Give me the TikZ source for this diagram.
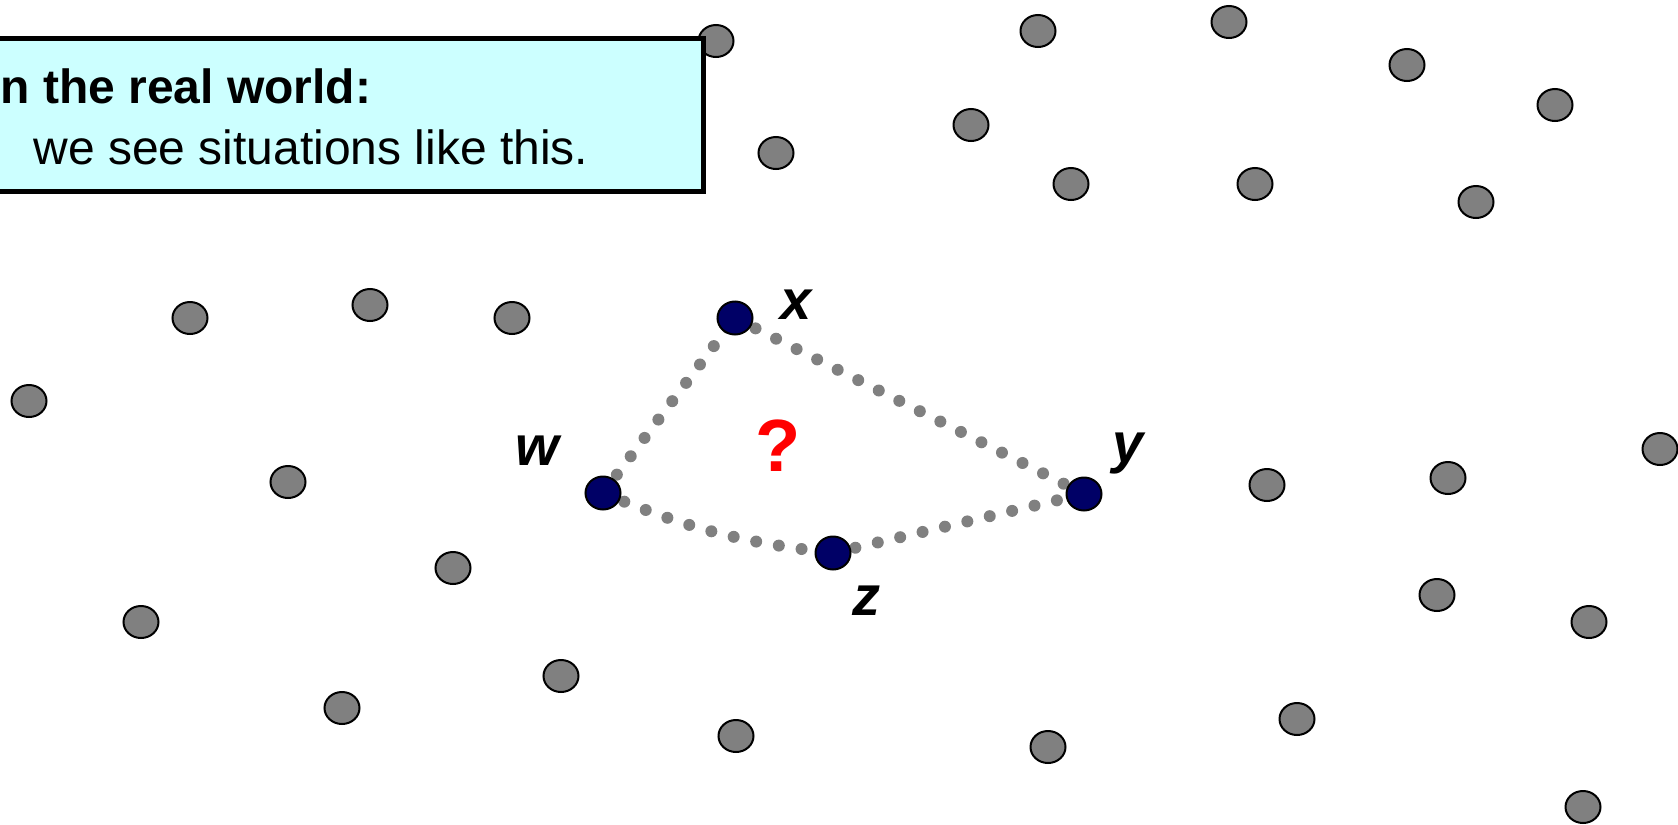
\documentclass[tikz,border=0pt]{standalone}
\usepackage{fontspec}
\setmainfont{Liberation Sans}
\usetikzlibrary{shapes.geometric}
\definecolor{boxfill}{HTML}{CCFFFF}
\definecolor{dotgray}{HTML}{808080}
\definecolor{navyblue}{HTML}{000066}
\begin{document}
\begin{tikzpicture}[x=0.5pt,y=-0.5pt,
 gnode/.style={ellipse,draw=black,fill=dotgray,line width=1pt,minimum width=17.5pt,minimum height=16pt,inner sep=0pt},
 bnode/.style={ellipse,draw=black,fill=navyblue,line width=1pt,minimum width=17.5pt,minimum height=16.5pt,inner sep=0pt},
 lbl/.style={font=\fontsize{28}{32}\selectfont\bfseries\itshape,anchor=base,inner sep=0pt},
 boxtext/.style={font=\fontsize{24}{28}\selectfont,anchor=base west,inner sep=0pt},
 dotline/.style={draw=dotgray,line width=6pt,line cap=round,dash pattern=on 0pt off 11.5pt}]
\useasboundingbox (0,0) rectangle (1678,825);
% gray points
\node[gnode] (g1) at (716,41) {};
\node[gnode] (g2) at (1038,31) {};
\node[gnode] (g3) at (1229,22) {};
\node[gnode] (g4) at (1407,65) {};
\node[gnode] (g5) at (1555,105) {};
\node[gnode] (g6) at (971,125) {};
\node[gnode] (g7) at (776,153) {};
\node[gnode] (g8) at (1071,184) {};
\node[gnode] (g9) at (1255,184) {};
\node[gnode] (g10) at (1476,202) {};
\node[gnode] (g11) at (190,318) {};
\node[gnode] (g12) at (370,305) {};
\node[gnode] (g13) at (512,318) {};
\node[gnode] (g14) at (29,401) {};
\node[gnode] (g15) at (288,482) {};
\node[gnode] (g16) at (453,568) {};
\node[gnode] (g17) at (141,622) {};
\node[gnode] (g18) at (342,708) {};
\node[gnode] (g19) at (561,676) {};
\node[gnode] (g20) at (736,736) {};
\node[gnode] (g21) at (1048,747) {};
\node[gnode] (g22) at (1297,719) {};
\node[gnode] (g23) at (1267,485) {};
\node[gnode] (g24) at (1448,478) {};
\node[gnode] (g25) at (1660,449) {};
\node[gnode] (g26) at (1437,595) {};
\node[gnode] (g27) at (1589,622) {};
\node[gnode] (g28) at (1583,807) {};
% text box
\fill[gray!70] (-20,41) rectangle (706,194);
\draw[line width=2.5pt,fill=boxfill] (-20,38) rectangle (703,191);
\node[boxtext] (t1) at (0,103) {\bfseries n the real world:};
\node[boxtext] (t2) at (33,164) {we see situations like this.};
% highlighted points
\coordinate (cw) at (603,493);
\coordinate (cx) at (735,318);
\coordinate (cz) at (833,553);
\coordinate (cy) at (1084,494);
\draw[dotline] (cw) -- (cx);
\draw[dotline] (cx) -- (cy);
\draw[dotline] (cw) to[bend right=8] (cz);
\draw[dotline] (cz) -- (cy);
\node[bnode] (x) at (cx) {};
\node[bnode] (w) at (cw) {};
\node[bnode] (z) at (cz) {};
\node[bnode] (y) at (cy) {};
\node[lbl] (lx) at (796,319) {x};
\node[lbl] (lw) at (537,465) {w};
\node[lbl] (lz) at (866,615) {z};
\node[lbl] (ly) at (1128,462) {y};
\node[font=\fontsize{37}{40}\selectfont\bfseries,text=red,anchor=base,inner sep=0pt] (q) at (778,471) {?};
\end{tikzpicture}
\end{document}
